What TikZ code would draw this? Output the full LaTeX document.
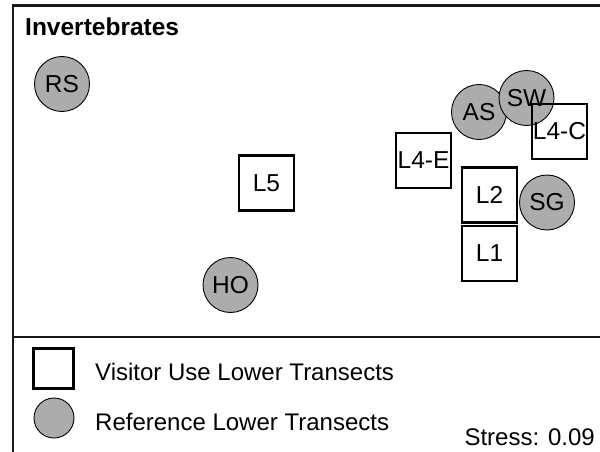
\documentclass[tikz,border=0pt]{standalone}
\usepackage{fontspec}
\setmainfont{Liberation Sans}
\begin{document}
\begin{tikzpicture}[x=1pt,y=-1pt,
  refpt/.style={circle,draw=black,line width=0.9pt,fill=gray!65,minimum size=55pt,inner sep=0pt,font=\fontsize{24.5}{26}\selectfont},
  visit/.style={rectangle,draw=black,line width=2.6pt,minimum size=55pt,inner sep=0pt,font=\fontsize{24.5}{26}\selectfont},
  frameline/.style={line width=2.8pt,black!90},
  legtxt/.style={anchor=base west,inner sep=0pt,font=\fontsize{24}{26}\selectfont}]
\useasboundingbox (0,0) rectangle (600,452);
% frame
\coordinate (tl) at (13,5.5);
\coordinate (tr) at (602,5.5);
\coordinate (bl) at (13,454);
\coordinate (dl) at (13,337);
\coordinate (dr) at (602,337);
\draw[frameline] (tr) -- (tl) -- (bl);
\draw[frameline] (dl) -- (dr);
% title
\node[anchor=base west,inner sep=0pt,font=\bfseries\fontsize{24.5}{26}\selectfont] (title) at (25,36) {Invertebrates};
% reference points
\node[refpt] (rs) at (62,84) {RS};
\node[refpt] (ho) at (230.5,285) {HO};
\node[refpt] (as) at (479,112) {AS};
\node[refpt] (sw) at (526.5,98) {SW};
\node[refpt] (sg) at (547,202.5) {SG};
% visitor points
\node[visit] (l4c) at (559.5,131.5) {L4-C};
\node[visit] (l4e) at (423.5,160.5) {L4-E};
\node[visit] (l2) at (489.5,195) {L2};
\node[visit] (l1) at (489.5,253.5) {L1};
\node[visit] (l5) at (266.5,183) {L5};
% legend
\node[rectangle,draw=black,line width=2.2pt,minimum size=40pt,inner sep=0pt] (legsq) at (53.5,368.5) {};
\node[circle,draw=black,line width=0.9pt,fill=gray!65,minimum size=40pt,inner sep=0pt] (legci) at (54,418) {};
\node[legtxt] (legsqt) at (95,380) {Visitor Use Lower Transects};
\node[legtxt] (legcit) at (95,430) {Reference Lower Transects};
\node[anchor=base east,inner sep=0pt,font=\fontsize{24}{26}\selectfont] (stress) at (595,445) {Stress: 0.09};
\end{tikzpicture}
\end{document}
